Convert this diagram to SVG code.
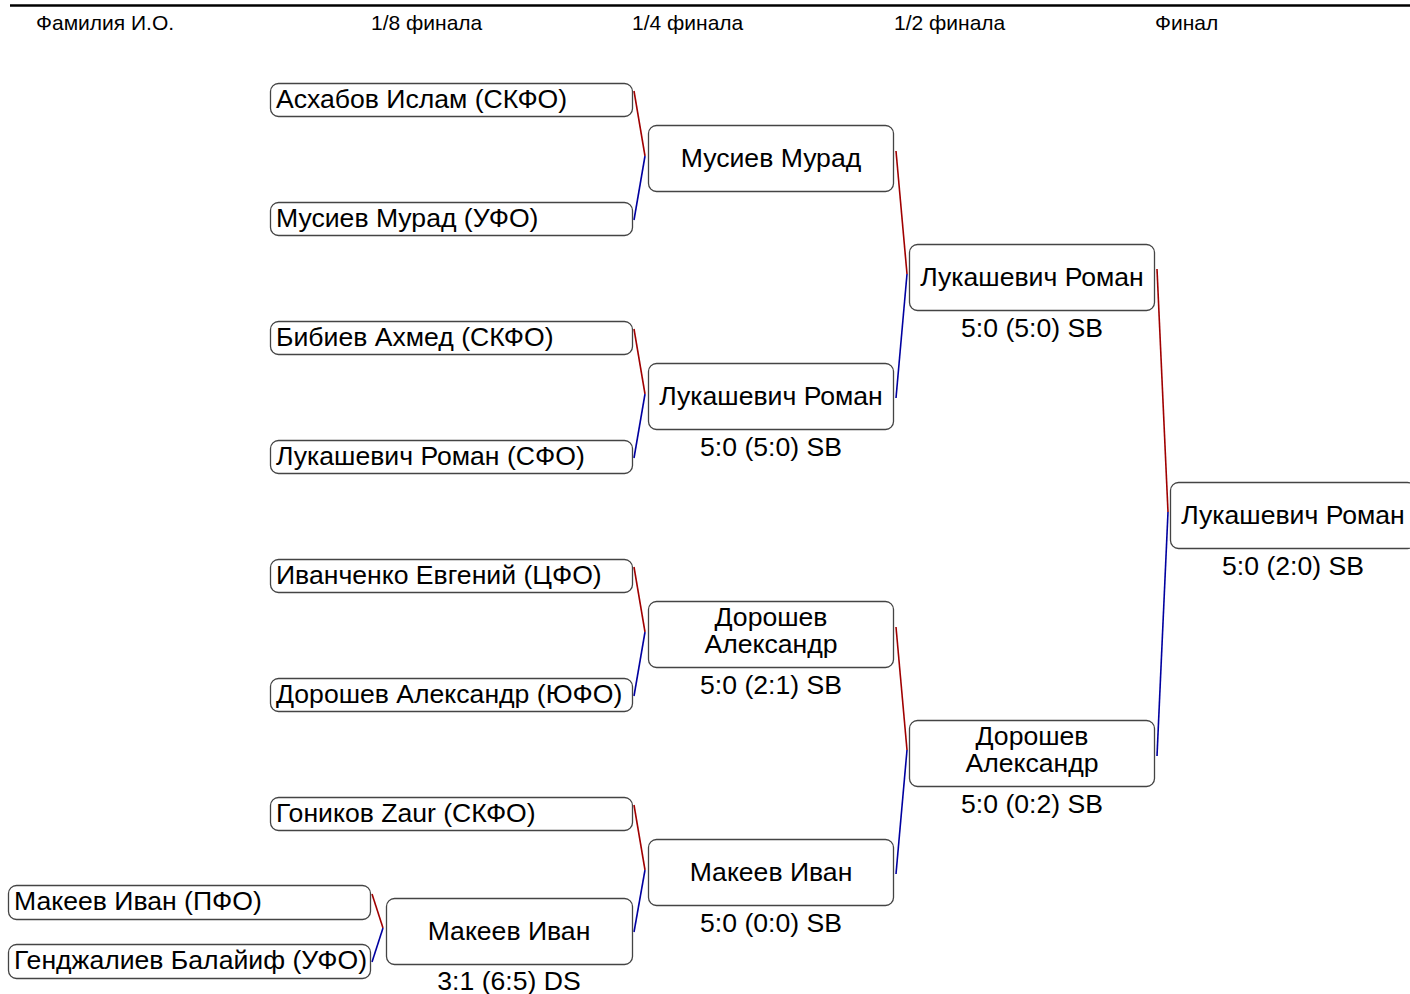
<svg xmlns="http://www.w3.org/2000/svg" width="1410" height="994" viewBox="0 0 1410 994">
<style>
.hdr{font-family:"Liberation Sans",Arial,sans-serif;font-size:21px;fill:#000}
.box{fill:#fff;stroke:#444;stroke-width:1.3}
.t{font-family:"Liberation Sans",Arial,sans-serif;font-size:26.6px;fill:#000}
.c{text-anchor:middle}
.red{stroke:#a00000;stroke-width:1.6;fill:none}
.blue{stroke:#0000a0;stroke-width:1.6;fill:none}
</style>
<rect width="1410" height="994" fill="#fff"/>
<g id="header">
<line x1="10" y1="5.5" x2="1410" y2="5.5" stroke="#000" stroke-width="2.5"/>
<text class="hdr" x="36" y="30">Фамилия И.О.</text>
<text class="hdr" x="371" y="30">1/8 финала</text>
<text class="hdr" x="632" y="30">1/4 финала</text>
<text class="hdr" x="894" y="30">1/2 финала</text>
<text class="hdr" x="1155" y="30">Финал</text>
</g>
<g id="connectors">
<polyline class="red" points="372,894 383,928"/><polyline class="blue" points="383,928 372,962"/>
<polyline class="red" points="634,91 645,156"/><polyline class="blue" points="645,156 634,220"/>
<polyline class="red" points="634,329 645,394"/><polyline class="blue" points="645,394 634,458"/>
<polyline class="red" points="634,567 645,632"/><polyline class="blue" points="645,632 634,696"/>
<polyline class="red" points="634,805 645,870"/><polyline class="blue" points="645,870 634,932"/>
<polyline class="red" points="896,151 907,274"/><polyline class="blue" points="907,274 896,398"/>
<polyline class="red" points="896,627 907,750"/><polyline class="blue" points="907,750 896,874"/>
<polyline class="red" points="1157,269 1168,512"/><polyline class="blue" points="1168,512 1157,756"/>
</g>
<g id="p1"><rect class="box" x="8.5" y="885.5" width="362" height="34" rx="8"/><text class="t" x="14" y="910">Макеев Иван (ПФО)</text></g>
<g id="p2"><rect class="box" x="8.5" y="944.5" width="362" height="34" rx="8"/><text class="t" x="14" y="969">Генджалиев Балайиф (УФО)</text></g>
<g id="r1"><rect class="box" x="270.5" y="83.5" width="362" height="33" rx="8"/><text class="t" x="276" y="108">Асхабов Ислам (СКФО)</text></g>
<g id="r2"><rect class="box" x="270.5" y="202.5" width="362" height="33" rx="8"/><text class="t" x="276" y="227">Мусиев Мурад (УФО)</text></g>
<g id="r3"><rect class="box" x="270.5" y="321.5" width="362" height="33" rx="8"/><text class="t" x="276" y="346">Бибиев Ахмед (СКФО)</text></g>
<g id="r4"><rect class="box" x="270.5" y="440.5" width="362" height="33" rx="8"/><text class="t" x="276" y="465">Лукашевич Роман (СФО)</text></g>
<g id="r5"><rect class="box" x="270.5" y="559.5" width="362" height="33" rx="8"/><text class="t" x="276" y="584">Иванченко Евгений (ЦФО)</text></g>
<g id="r6"><rect class="box" x="270.5" y="678.5" width="362" height="33" rx="8"/><text class="t" x="276" y="703">Дорошев Александр (ЮФО)</text></g>
<g id="r7"><rect class="box" x="270.5" y="797.5" width="362" height="33" rx="8"/><text class="t" x="276" y="822">Гоников Zaur (СКФО)</text></g>
<g id="r8"><rect class="box" x="386.5" y="898.5" width="246" height="66" rx="8"/><text class="t c" x="509" y="940">Макеев Иван</text><text class="t c" x="509" y="990">3:1 (6:5) DS</text></g>
<g id="q1"><rect class="box" x="648.5" y="125.5" width="245" height="66" rx="8"/><text class="t c" x="771" y="167">Мусиев Мурад</text></g>
<g id="q2"><rect class="box" x="648.5" y="363.5" width="245" height="66" rx="8"/><text class="t c" x="771" y="405">Лукашевич Роман</text><text class="t c" x="771" y="456">5:0 (5:0) SB</text></g>
<g id="q3"><rect class="box" x="648.5" y="601.5" width="245" height="66" rx="8"/><text class="t c" x="771" y="626">Дорошев</text><text class="t c" x="771" y="653">Александр</text><text class="t c" x="771" y="694">5:0 (2:1) SB</text></g>
<g id="q4"><rect class="box" x="648.5" y="839.5" width="245" height="66" rx="8"/><text class="t c" x="771" y="881">Макеев Иван</text><text class="t c" x="771" y="932">5:0 (0:0) SB</text></g>
<g id="s1"><rect class="box" x="909.5" y="244.5" width="245" height="66" rx="8"/><text class="t c" x="1032" y="286">Лукашевич Роман</text><text class="t c" x="1032" y="337">5:0 (5:0) SB</text></g>
<g id="s2"><rect class="box" x="909.5" y="720.5" width="245" height="66" rx="8"/><text class="t c" x="1032" y="745">Дорошев</text><text class="t c" x="1032" y="772">Александр</text><text class="t c" x="1032" y="813">5:0 (0:2) SB</text></g>
<g id="f"><rect class="box" x="1170.5" y="482.5" width="245" height="66" rx="8"/><text class="t c" x="1293" y="524">Лукашевич Роман</text><text class="t c" x="1293" y="575">5:0 (2:0) SB</text></g>
</svg>
